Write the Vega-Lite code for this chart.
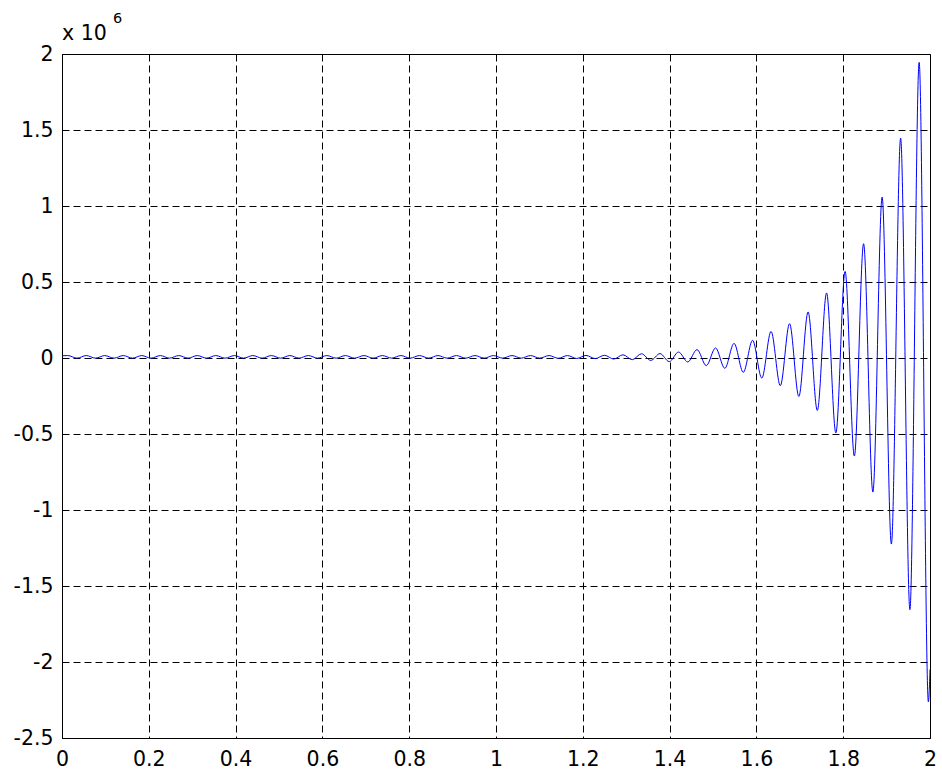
{
  "$schema": "https://vega.github.io/schema/vega-lite/v6.json",
  "width": 868,
  "height": 684,
  "autosize": {"type": "none"},
  "padding": {"left": 62, "top": 54, "right": 12, "bottom": 35},
  "background": "white",
  "config": {
    "view": {"stroke": "black", "strokeWidth": 1},
    "font": "DejaVu Sans",
    "axis": {
      "grid": true,
      "gridDash": [7, 4],
      "gridColor": "black",
      "gridOpacity": 1,
      "gridWidth": 1,
      "ticks": false,
      "domain": true,
      "domainColor": "black",
      "labelFont": "DejaVu Sans",
      "labelFontSize": 20.5,
      "labelColor": "black",
      "labelFlush": false,
      "labelOverlap": false,
      "labelExpr": "replace(format(datum.value, '~g'), '\u2212', '-')"
    },
    "axisX": {"labelPadding": 11},
    "axisY": {"labelPadding": 9}
  },
  "data": {
    "values": [
      {"t": 0.0, "v": 0.015},
      {"t": 0.0133, "v": 0.016}, {"t": 0.0346, "v": -0.001},
      {"t": 0.0559, "v": 0.016}, {"t": 0.0772, "v": -0.001},
      {"t": 0.0985, "v": 0.016}, {"t": 0.1199, "v": -0.001},
      {"t": 0.1412, "v": 0.016}, {"t": 0.1625, "v": -0.001},
      {"t": 0.1838, "v": 0.016}, {"t": 0.2052, "v": -0.001},
      {"t": 0.2265, "v": 0.016}, {"t": 0.2478, "v": -0.001},
      {"t": 0.2691, "v": 0.016}, {"t": 0.2905, "v": -0.001},
      {"t": 0.3118, "v": 0.016}, {"t": 0.3331, "v": -0.001},
      {"t": 0.3544, "v": 0.016}, {"t": 0.3757, "v": -0.001},
      {"t": 0.3971, "v": 0.016}, {"t": 0.4184, "v": -0.001},
      {"t": 0.4397, "v": 0.016}, {"t": 0.4610, "v": -0.001},
      {"t": 0.4824, "v": 0.016}, {"t": 0.5037, "v": -0.001},
      {"t": 0.5250, "v": 0.016}, {"t": 0.5463, "v": -0.001},
      {"t": 0.5677, "v": 0.016}, {"t": 0.5890, "v": -0.001},
      {"t": 0.6103, "v": 0.016}, {"t": 0.6316, "v": -0.001},
      {"t": 0.6529, "v": 0.016}, {"t": 0.6743, "v": -0.001},
      {"t": 0.6956, "v": 0.016}, {"t": 0.7169, "v": -0.001},
      {"t": 0.7382, "v": 0.016}, {"t": 0.7596, "v": -0.001},
      {"t": 0.7809, "v": 0.016}, {"t": 0.8022, "v": -0.001},
      {"t": 0.8235, "v": 0.016}, {"t": 0.8449, "v": -0.001},
      {"t": 0.8662, "v": 0.016}, {"t": 0.8875, "v": -0.001},
      {"t": 0.9088, "v": 0.016}, {"t": 0.9301, "v": -0.001},
      {"t": 0.9515, "v": 0.016}, {"t": 0.9728, "v": -0.001},
      {"t": 0.9941, "v": 0.016}, {"t": 1.0154, "v": -0.001},
      {"t": 1.0368, "v": 0.016}, {"t": 1.0581, "v": -0.001},
      {"t": 1.0794, "v": 0.016}, {"t": 1.1007, "v": -0.001},
      {"t": 1.1221, "v": 0.016}, {"t": 1.1434, "v": -0.002},
      {"t": 1.1647, "v": 0.016}, {"t": 1.1860, "v": -0.003},
      {"t": 1.2073, "v": 0.017}, {"t": 1.2287, "v": -0.004},
      {"t": 1.2500, "v": 0.018}, {"t": 1.2713, "v": -0.007},
      {"t": 1.2926, "v": 0.021}, {"t": 1.3140, "v": -0.011},
      {"t": 1.3353, "v": 0.028}, {"t": 1.3566, "v": -0.016},
      {"t": 1.3779, "v": 0.029}, {"t": 1.3992, "v": -0.024},
      {"t": 1.4206, "v": 0.039}, {"t": 1.4419, "v": -0.026},
      {"t": 1.4632, "v": 0.055}, {"t": 1.4845, "v": -0.05},
      {"t": 1.5059, "v": 0.066}, {"t": 1.5272, "v": -0.068},
      {"t": 1.5485, "v": 0.096}, {"t": 1.5698, "v": -0.094},
      {"t": 1.5912, "v": 0.116}, {"t": 1.6125, "v": -0.132},
      {"t": 1.6338, "v": 0.175}, {"t": 1.6551, "v": -0.182},
      {"t": 1.6764, "v": 0.226}, {"t": 1.6978, "v": -0.253},
      {"t": 1.7191, "v": 0.303}, {"t": 1.7404, "v": -0.345},
      {"t": 1.7617, "v": 0.428}, {"t": 1.7831, "v": -0.493},
      {"t": 1.8044, "v": 0.570}, {"t": 1.8257, "v": -0.645},
      {"t": 1.8470, "v": 0.752}, {"t": 1.8684, "v": -0.882},
      {"t": 1.8897, "v": 1.058}, {"t": 1.9110, "v": -1.224},
      {"t": 1.9323, "v": 1.447}, {"t": 1.9537, "v": -1.656},
      {"t": 1.9750, "v": 1.945}, {"t": 1.9963, "v": -2.263},
      {"t": 2.0, "v": -2.05}
    ]
  },
  "layer": [
    {
      "mark": {"type": "line", "color": "#0000ff", "strokeWidth": 1, "clip": true, "interpolate": "monotone"},
      "encoding": {
        "x": {
          "field": "t",
          "type": "quantitative",
          "title": null,
          "scale": {"domain": [0, 2], "nice": false, "zero": false},
          "axis": {"values": [0, 0.2, 0.4, 0.6, 0.8, 1, 1.2, 1.4, 1.6, 1.8, 2]}
        },
        "y": {
          "field": "v",
          "type": "quantitative",
          "title": null,
          "scale": {"domain": [-2.5, 2], "nice": false, "zero": false},
          "axis": {"values": [-2.5, -2, -1.5, -1, -0.5, 0, 0.5, 1, 1.5, 2]}
        }
      }
    },
    {
      "data": {"values": [{"label": "x 10"}]},
      "mark": {"type": "text", "align": "left", "baseline": "alphabetic", "fontSize": 20.5, "font": "DejaVu Sans", "color": "black", "dy": -14},
      "encoding": {
        "x": {"datum": 0, "type": "quantitative", "title": null},
        "y": {"datum": 2, "type": "quantitative", "title": null},
        "text": {"field": "label"}
      }
    },
    {
      "data": {"values": [{"label": "6"}]},
      "mark": {"type": "text", "align": "left", "baseline": "alphabetic", "fontSize": 14.5, "font": "DejaVu Sans", "color": "black", "dx": 51, "dy": -31},
      "encoding": {
        "x": {"datum": 0, "type": "quantitative", "title": null},
        "y": {"datum": 2, "type": "quantitative", "title": null},
        "text": {"field": "label"}
      }
    }
  ]
}
